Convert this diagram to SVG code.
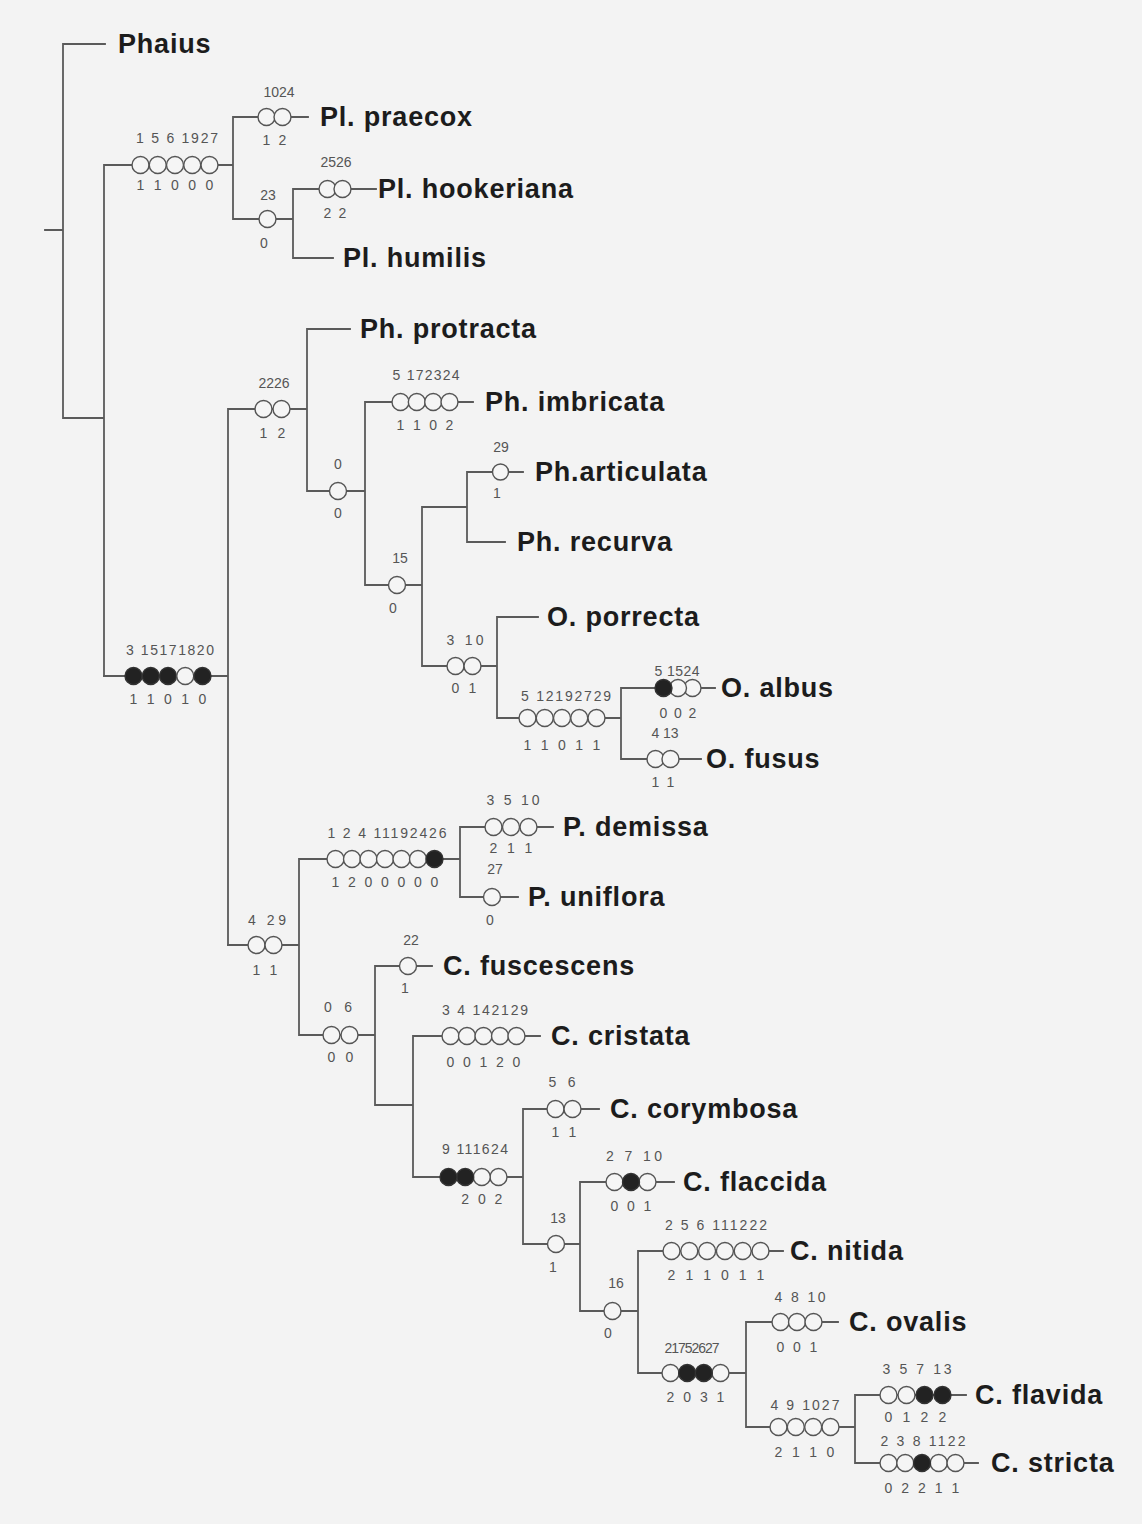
<svg xmlns="http://www.w3.org/2000/svg" width="1142" height="1524" viewBox="0 0 1142 1524">
<style>
.bg{fill:#f3f3f3}
.ln{fill:none;stroke:#5a5a5a;stroke-width:1.8;stroke-linecap:square}
.o{fill:#f5f5f5;stroke:#555;stroke-width:1.4}
.f{fill:#222;stroke:#333;stroke-width:1.4}
.tx{font-family:"Liberation Sans",Arial,sans-serif;font-weight:bold;font-size:27px;fill:#1c1c1c;letter-spacing:0.8px}
.n{font-family:"Liberation Sans",Arial,sans-serif;font-size:14px;fill:#555}
.m{text-anchor:middle}
</style>
<rect class="bg" x="0" y="0" width="1142" height="1524"/>
<g id="connectors">
<path class="ln" d="M45,230H63 M63,44V418 M63,44H105 M63,418H104 M104,165V676 M104,165H233 M233,117V219 M233,117H308 M233,219H293 M293,189V258 M293,189H376 M293,258H333"/>
<path class="ln" d="M104,676H228 M228,409V945 M228,409H307 M307,329V491 M307,329H350 M307,491H365 M365,402V585 M365,402H473 M365,585H422 M422,507V666 M422,507H467 M467,472V542 M467,472H523 M467,542H505 M422,666H497 M497,617V718 M497,617H538 M497,718H621 M621,688V759 M621,688H715 M621,759H701"/>
<path class="ln" d="M228,945H299 M299,859V1035 M299,859H460 M460,827V897 M460,827H553 M460,897H518 M299,1035H375 M375,966V1105 M375,966H432 M375,1105H413 M413,1036V1177 M413,1036H540 M413,1177H523 M523,1109V1244 M523,1109H599 M523,1244H580 M580,1182V1311 M580,1182H674 M580,1311H638 M638,1251V1373 M638,1251H783 M638,1373H746 M746,1322V1427 M746,1322H838 M746,1427H855 M855,1395V1463 M855,1395H966 M855,1463H978"/>
</g>
<g id="taxa">
<text id="t-phaius" class="tx" x="118" y="53">Phaius</text>
<text id="t-praecox" class="tx" x="320" y="126">Pl. praecox</text>
<text id="t-hookeriana" class="tx" x="378" y="198">Pl. hookeriana</text>
<text id="t-humilis" class="tx" x="343" y="267">Pl. humilis</text>
<text id="t-protracta" class="tx" x="360" y="338">Ph. protracta</text>
<text id="t-imbricata" class="tx" x="485" y="411">Ph. imbricata</text>
<text id="t-articulata" class="tx" x="535" y="481">Ph.articulata</text>
<text id="t-recurva" class="tx" x="517" y="551">Ph. recurva</text>
<text id="t-porrecta" class="tx" x="547" y="626">O. porrecta</text>
<text id="t-albus" class="tx" x="721" y="697">O. albus</text>
<text id="t-fusus" class="tx" x="706" y="768">O. fusus</text>
<text id="t-demissa" class="tx" x="563" y="836">P. demissa</text>
<text id="t-uniflora" class="tx" x="528" y="906">P. uniflora</text>
<text id="t-fuscescens" class="tx" x="443" y="975">C. fuscescens</text>
<text id="t-cristata" class="tx" x="551" y="1045">C. cristata</text>
<text id="t-corymbosa" class="tx" x="610" y="1118">C. corymbosa</text>
<text id="t-flaccida" class="tx" x="683" y="1191">C. flaccida</text>
<text id="t-nitida" class="tx" x="790" y="1260">C. nitida</text>
<text id="t-ovalis" class="tx" x="849" y="1331">C. ovalis</text>
<text id="t-flavida" class="tx" x="975" y="1404">C. flavida</text>
<text id="t-stricta" class="tx" x="991" y="1472">C. stricta</text>
</g>
<g id="n-pl">
<circle class="o" cx="140.5" cy="165" r="8.5"/><circle class="o" cx="157.75" cy="165" r="8.5"/><circle class="o" cx="175" cy="165" r="8.5"/><circle class="o" cx="192.25" cy="165" r="8.5"/><circle class="o" cx="209.5" cy="165" r="8.5"/>
<text class="n m" x="177" y="143" textLength="82">1 5 6 1927</text>
<text class="n" x="136.6" y="190" textLength="76.8">1 1 0 0 0</text>
</g>
<g id="n-praecox">
<circle class="o" cx="266.5" cy="117" r="8.5"/><circle class="o" cx="282.5" cy="117" r="8.5"/>
<text class="n m" x="279" y="97">1024</text>
<text class="n" x="262.6" y="145" textLength="23.8">1 2</text>
</g>
<g id="n-23">
<circle class="o" cx="267.5" cy="219" r="8.5"/>
<text class="n m" x="268" y="200">23</text>
<text class="n m" x="264" y="248">0</text>
</g>
<g id="n-hookeriana">
<circle class="o" cx="327.5" cy="189" r="8.5"/><circle class="o" cx="342.5" cy="189" r="8.5"/>
<text class="n m" x="336" y="167">2526</text>
<text class="n" x="323.6" y="218" textLength="22.8">2 2</text>
</g>
<g id="n-ph">
<circle class="o" cx="263.5" cy="409" r="8.5"/><circle class="o" cx="281.5" cy="409" r="8.5"/>
<text class="n m" x="274" y="388">2226</text>
<text class="n" x="259.6" y="438" textLength="25.8">1 2</text>
</g>
<g id="n-imbricata">
<circle class="o" cx="400.5" cy="402" r="8.5"/><circle class="o" cx="416.8" cy="402" r="8.5"/><circle class="o" cx="433.2" cy="402" r="8.5"/><circle class="o" cx="449.5" cy="402" r="8.5"/>
<text class="n m" x="426" y="380" textLength="67">5 172324</text>
<text class="n" x="396.6" y="430" textLength="56.8">1 1 0 2</text>
</g>
<g id="n-0">
<circle class="o" cx="338" cy="491" r="8.5"/>
<text class="n m" x="338" y="469">0</text>
<text class="n m" x="338" y="518">0</text>
</g>
<g id="n-articulata">
<circle class="o" cx="500.5" cy="472" r="8"/>
<text class="n m" x="501" y="452">29</text>
<text class="n m" x="497" y="498">1</text>
</g>
<g id="n-15">
<circle class="o" cx="397" cy="585" r="8.5"/>
<text class="n m" x="400" y="563">15</text>
<text class="n m" x="393" y="613">0</text>
</g>
<g id="n-310">
<circle class="o" cx="455.5" cy="666" r="8.5"/><circle class="o" cx="472.5" cy="666" r="8.5"/>
<text class="n m" x="465" y="645" textLength="37">3 10</text>
<text class="n" x="451.6" y="693" textLength="24.8">0 1</text>
</g>
<g id="n-o">
<circle class="o" cx="527.5" cy="718" r="8.5"/><circle class="o" cx="544.75" cy="718" r="8.5"/><circle class="o" cx="562" cy="718" r="8.5"/><circle class="o" cx="579.25" cy="718" r="8.5"/><circle class="o" cx="596.5" cy="718" r="8.5"/>
<text class="n m" x="566" y="701" textLength="90">5 12192729</text>
<text class="n" x="523.6" y="750" textLength="76.8">1 1 0 1 1</text>
</g>
<g id="n-albus">
<circle class="o" cx="692.5" cy="688" r="8.5"/><circle class="o" cx="678" cy="688" r="8.5"/><circle class="f" cx="663.5" cy="688" r="8.5"/>
<text class="n m" x="677" y="676" textLength="45">5 1524</text>
<text class="n" x="659.6" y="718" textLength="36.8">0 0 2</text>
</g>
<g id="n-fusus">
<circle class="o" cx="655.5" cy="759" r="8.5"/><circle class="o" cx="670.5" cy="759" r="8.5"/>
<text class="n m" x="665" y="738">4 13</text>
<text class="n" x="651.6" y="787" textLength="22.8">1 1</text>
</g>
<g id="n-c">
<circle class="f" cx="133.5" cy="676" r="8.5"/><circle class="f" cx="150.75" cy="676" r="8.5"/><circle class="f" cx="168" cy="676" r="8.5"/><circle class="o" cx="185.25" cy="676" r="8.5"/><circle class="f" cx="202.5" cy="676" r="8.5"/>
<text class="n m" x="170" y="655" textLength="88">3 15171820</text>
<text class="n" x="129.6" y="704" textLength="76.8">1 1 0 1 0</text>
</g>
<g id="n-429">
<circle class="o" cx="256.5" cy="945" r="8.5"/><circle class="o" cx="273.5" cy="945" r="8.5"/>
<text class="n m" x="267" y="925" textLength="38">4 29</text>
<text class="n" x="252.6" y="975" textLength="24.8">1 1</text>
</g>
<g id="n-p">
<circle class="o" cx="335.5" cy="859" r="8.5"/><circle class="o" cx="352" cy="859" r="8.5"/><circle class="o" cx="368.5" cy="859" r="8.5"/><circle class="o" cx="385" cy="859" r="8.5"/><circle class="o" cx="401.5" cy="859" r="8.5"/><circle class="o" cx="418" cy="859" r="8.5"/><circle class="f" cx="434.5" cy="859" r="8.5"/>
<text class="n m" x="387" y="838" textLength="119">1 2 4 11192426</text>
<text class="n" x="331.6" y="887" textLength="106.8">1 2 0 0 0 0 0</text>
</g>
<g id="n-demissa">
<circle class="o" cx="493.5" cy="827" r="8.5"/><circle class="o" cx="511" cy="827" r="8.5"/><circle class="o" cx="528.5" cy="827" r="8.5"/>
<text class="n m" x="513" y="805" textLength="53">3 5 10</text>
<text class="n" x="489.6" y="853" textLength="42.8">2 1 1</text>
</g>
<g id="n-uniflora">
<circle class="o" cx="492" cy="897" r="8.5"/>
<text class="n m" x="495" y="874">27</text>
<text class="n m" x="490" y="925">0</text>
</g>
<g id="n-06">
<circle class="o" cx="331.5" cy="1035" r="8.5"/><circle class="o" cx="349.5" cy="1035" r="8.5"/>
<text class="n m" x="338" y="1012" textLength="28">0 6</text>
<text class="n" x="327.6" y="1062" textLength="25.8">0 0</text>
</g>
<g id="n-fuscescens">
<circle class="o" cx="408" cy="966" r="8.5"/>
<text class="n m" x="411" y="945">22</text>
<text class="n m" x="405" y="993">1</text>
</g>
<g id="n-cristata">
<circle class="o" cx="450.5" cy="1036" r="8.5"/><circle class="o" cx="467" cy="1036" r="8.5"/><circle class="o" cx="483.5" cy="1036" r="8.5"/><circle class="o" cx="500" cy="1036" r="8.5"/><circle class="o" cx="516.5" cy="1036" r="8.5"/>
<text class="n m" x="485" y="1015" textLength="86">3 4 142129</text>
<text class="n" x="446.6" y="1067" textLength="73.8">0 0 1 2 0</text>
</g>
<g id="n-9">
<circle class="o" cx="498.5" cy="1177" r="8.5"/><circle class="o" cx="481.8" cy="1177" r="8.5"/><circle class="f" cx="465.2" cy="1177" r="8.5"/><circle class="f" cx="448.5" cy="1177" r="8.5"/>
<text class="n m" x="475" y="1154" textLength="66">9 111624</text>
<text class="n" x="461.3" y="1204" textLength="41.1">2 0 2</text>
</g>
<g id="n-corymbosa">
<circle class="o" cx="555.5" cy="1109" r="8.5"/><circle class="o" cx="572.5" cy="1109" r="8.5"/>
<text class="n m" x="562" y="1087" textLength="27">5 6</text>
<text class="n" x="551.6" y="1137" textLength="24.8">1 1</text>
</g>
<g id="n-13">
<circle class="o" cx="556" cy="1244" r="8.5"/>
<text class="n m" x="558" y="1223">13</text>
<text class="n m" x="553" y="1272">1</text>
</g>
<g id="n-flaccida">
<circle class="o" cx="614.5" cy="1182" r="8.5"/><circle class="o" cx="647.5" cy="1182" r="8.5"/><circle class="f" cx="631" cy="1182" r="8.5"/>
<text class="n m" x="634" y="1161" textLength="56">2 7 10</text>
<text class="n" x="610.6" y="1211" textLength="40.8">0 0 1</text>
</g>
<g id="n-nitida">
<circle class="o" cx="671.5" cy="1251" r="8.5"/><circle class="o" cx="689.3" cy="1251" r="8.5"/><circle class="o" cx="707.1" cy="1251" r="8.5"/><circle class="o" cx="724.9" cy="1251" r="8.5"/><circle class="o" cx="742.7" cy="1251" r="8.5"/><circle class="o" cx="760.5" cy="1251" r="8.5"/>
<text class="n m" x="716" y="1230" textLength="102">2 5 6 111222</text>
<text class="n" x="667.6" y="1280" textLength="96.8">2 1 1 0 1 1</text>
</g>
<g id="n-16">
<circle class="o" cx="612.5" cy="1311" r="8.5"/>
<text class="n m" x="616" y="1288">16</text>
<text class="n m" x="608" y="1338">0</text>
</g>
<g id="n-2175">
<circle class="o" cx="670.5" cy="1373" r="8.5"/><circle class="o" cx="720.5" cy="1373" r="8.5"/><circle class="f" cx="687.2" cy="1373" r="8.5"/><circle class="f" cx="703.8" cy="1373" r="8.5"/>
<text class="n m" x="692" y="1353" textLength="55">21752627</text>
<text class="n" x="666.6" y="1402" textLength="57.8">2 0 3 1</text>
</g>
<g id="n-ovalis">
<circle class="o" cx="780.5" cy="1322" r="8.5"/><circle class="o" cx="797" cy="1322" r="8.5"/><circle class="o" cx="813.5" cy="1322" r="8.5"/>
<text class="n m" x="800" y="1302" textLength="51">4 8 10</text>
<text class="n" x="776.6" y="1352" textLength="40.8">0 0 1</text>
</g>
<g id="n-49">
<circle class="o" cx="778.5" cy="1427" r="8.5"/><circle class="o" cx="795.8" cy="1427" r="8.5"/><circle class="o" cx="813.2" cy="1427" r="8.5"/><circle class="o" cx="830.5" cy="1427" r="8.5"/>
<text class="n m" x="805" y="1410" textLength="69">4 9 1027</text>
<text class="n" x="774.6" y="1457" textLength="59.8">2 1 1 0</text>
</g>
<g id="n-flavida">
<circle class="o" cx="888.5" cy="1395" r="8.5"/><circle class="o" cx="906.5" cy="1395" r="8.5"/><circle class="f" cx="924.5" cy="1395" r="8.5"/><circle class="f" cx="942.5" cy="1395" r="8.5"/>
<text class="n m" x="917" y="1374" textLength="69">3 5 7 13</text>
<text class="n" x="884.6" y="1422" textLength="61.8">0 1 2 2</text>
</g>
<g id="n-stricta">
<circle class="o" cx="888.5" cy="1463" r="8.5"/><circle class="o" cx="905.25" cy="1463" r="8.5"/><circle class="o" cx="938.75" cy="1463" r="8.5"/><circle class="o" cx="955.5" cy="1463" r="8.5"/><circle class="f" cx="922" cy="1463" r="8.5"/>
<text class="n m" x="923" y="1446" textLength="85">2 3 8 1122</text>
<text class="n" x="884.6" y="1493" textLength="74.8">0 2 2 1 1</text>
</g>
</svg>
